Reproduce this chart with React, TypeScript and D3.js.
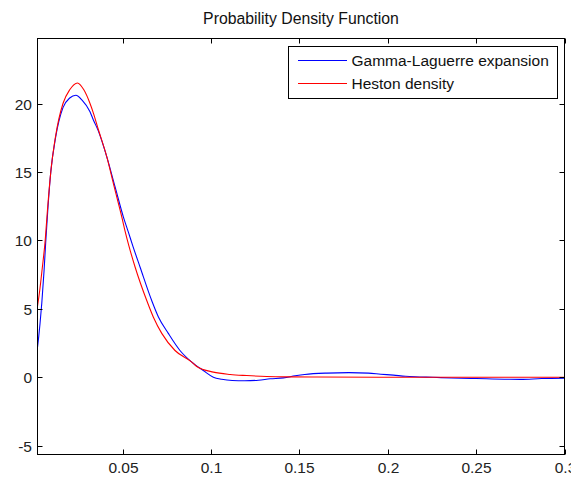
import React from "react";
import * as d3 from "d3";

const title = "Probability Density Function";
const seriesNames = ["Gamma-Laguerre expansion", "Heston density"];
const seriesColors = ["#0000ff", "#ff0000"];

const xTicks = [0.05, 0.1, 0.15, 0.2, 0.25, 0.3];
const xTickLabels = ["0.05", "0.1", "0.15", "0.2", "0.25", "0.3"];
const yTicks = [-5, 0, 5, 10, 15, 20];
const yTickLabels = ["-5", "0", "5", "10", "15", "20"];
const xDomain = [0.00178, 0.3];
const yDomain = [-5.65, 24.75];

const gammaX = [0.0018, 0.0025, 0.0032, 0.0042, 0.0055, 0.0064, 0.0077, 0.0093, 0.012, 0.0162, 0.02, 0.0235, 0.027, 0.0315, 0.0334, 0.0362, 0.041, 0.0457, 0.0504, 0.0532, 0.0557, 0.0598, 0.0664, 0.0702, 0.0758, 0.0824, 0.0891, 0.0956, 0.1013, 0.106, 0.112, 0.119, 0.1268, 0.1334, 0.141, 0.1476, 0.153, 0.1655, 0.178, 0.189, 0.196, 0.2032, 0.21, 0.2155, 0.2255, 0.236, 0.25, 0.266, 0.275, 0.287, 0.3];
const gammaY = [2.2, 3.0, 3.9, 5.4, 7.8, 9.8, 12.4, 15.0, 17.5, 19.7, 20.4, 20.6, 20.25, 19.4, 18.8, 18.0, 16.1, 13.9, 11.7, 10.6, 9.6, 8.05, 5.6, 4.4, 3.2, 1.95, 1.1, 0.49, 0.0, -0.15, -0.24, -0.26, -0.22, -0.12, -0.05, 0.1, 0.2, 0.3, 0.33, 0.3, 0.22, 0.15, 0.07, 0.03, -0.01, -0.06, -0.1, -0.15, -0.16, -0.1, -0.07];

const hestonX = [0.0018, 0.003, 0.0045, 0.006, 0.0076, 0.0093, 0.012, 0.0162, 0.02, 0.0244, 0.028, 0.0315, 0.0334, 0.0362, 0.041, 0.0452, 0.0495, 0.0513, 0.0535, 0.057, 0.0636, 0.0673, 0.0721, 0.0796, 0.0891, 0.0919, 0.1013, 0.1108, 0.1202, 0.1315, 0.145, 0.16, 0.2, 0.25, 0.3];
const hestonY = [5.2, 6.3, 8.0, 9.8, 12.5, 15.0, 17.6, 20.0, 21.0, 21.5, 21.0, 20.0, 19.3, 18.1, 16.1, 13.9, 11.7, 10.7, 9.6, 8.05, 5.6, 4.4, 3.2, 1.95, 1.1, 0.78, 0.37, 0.2, 0.12, 0.05, 0.02, 0.01, 0.0, 0.0, 0.0];

const W = 571;
const H = 480;
const L = 37.5, R = 564.5, T = 38.5, B = 454.5;
const FONT = "'Liberation Sans', Arial, sans-serif";

export default function App() {
  const x = d3.scaleLinear().domain(xDomain).range([L, R]);
  const y = d3.scaleLinear().domain(yDomain).range([B, T]);
  const line = d3
    .line<[number, number]>()
    .x((d) => x(d[0]))
    .y((d) => y(d[1]))
    .curve(d3.curveMonotoneX);
  const gammaPts = gammaX.map((v, i) => [v, gammaY[i]] as [number, number]);
  const hestonPts = hestonX.map((v, i) => [v, hestonY[i]] as [number, number]);
  const tk = 5;

  return (
    <svg
      width={W}
      height={H}
      style={{ position: "absolute", left: 0, top: 0, background: "#fff" }}
      fontFamily={FONT}
    >
      <rect x={0} y={0} width={W} height={H} fill="#fff" />
      <defs>
        <clipPath id="plotclip">
          <rect x={L} y={T} width={R - L} height={B - T} />
        </clipPath>
      </defs>
      <text x={(L + R) / 2} y={24} textAnchor="middle" fontSize={15.8} fill="#111">
        {title}
      </text>
      <g clipPath="url(#plotclip)">
        <path d={line(gammaPts) || ""} fill="none" stroke={seriesColors[0]} strokeWidth={1.1} />
        <path d={line(hestonPts) || ""} fill="none" stroke={seriesColors[1]} strokeWidth={1.1} />
      </g>
      <rect x={L} y={T} width={R - L} height={B - T} fill="none" stroke="#000" strokeWidth={1} />
      {xTicks.map((t, i) => {
        const px = Math.round(x(t)) + 0.5;
        return (
          <g key={"x" + i}>
            <line x1={px} x2={px} y1={B} y2={B - tk} stroke="#000" />
            <line x1={px} x2={px} y1={T} y2={T + tk} stroke="#000" />
            <text x={px} y={473} textAnchor="middle" fontSize={15.5} fill="#222">
              {xTickLabels[i]}
            </text>
          </g>
        );
      })}
      {yTicks.map((t, i) => {
        const py = Math.round(y(t)) + 0.5;
        return (
          <g key={"y" + i}>
            <line x1={L} x2={L + tk} y1={py} y2={py} stroke="#000" />
            <line x1={R} x2={R - tk} y1={py} y2={py} stroke="#000" />
            <text x={32} y={py + 5.5} textAnchor="end" fontSize={15.5} fill="#222">
              {yTickLabels[i]}
            </text>
          </g>
        );
      })}
      <g>
        <rect x={288.5} y={46.5} width={269} height={52} fill="#fff" stroke="#000" strokeWidth={1} />
        {seriesNames.map((n, i) => {
          const ly = i === 0 ? 60.5 : 83.5;
          return (
            <g key={"lg" + i}>
              <line x1={298} x2={347} y1={ly} y2={ly} stroke={seriesColors[i]} strokeWidth={1} />
              <text x={351.5} y={ly + 5.5} fontSize={15.5} fill="#111">
                {n}
              </text>
            </g>
          );
        })}
      </g>
    </svg>
  );
}
